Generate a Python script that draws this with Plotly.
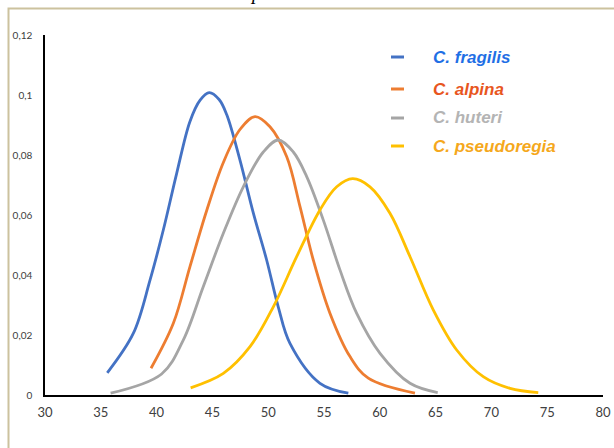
import plotly.graph_objects as go

# ---- data ----
frag_x = [35.58, 37.92, 39.41, 40.6, 41.8, 42.99, 43.9, 44.72, 45.6, 46.28, 47.47, 48.67, 49.86, 50.9, 51.95, 54.64, 57.18]
frag_y = [0.0074, 0.0206, 0.0383, 0.055, 0.0739, 0.0912, 0.0983, 0.1008, 0.0985, 0.0935, 0.0783, 0.0606, 0.045, 0.0294, 0.0172, 0.0039, 0.0006]

alp_x = [39.5, 41.5, 42.99, 44.49, 45.98, 47.47, 48.82, 50.16, 51.66, 52.85, 54.04, 55.54, 57.33, 58.97, 63.15]
alp_y = [0.0089, 0.0239, 0.0428, 0.0615, 0.0775, 0.0885, 0.0928, 0.0894, 0.0794, 0.0628, 0.045, 0.0272, 0.0128, 0.0056, 0.0006]

hut_x = [35.88, 40.45, 42.39, 44.18, 45.98, 47.77, 49.56, 50.9, 52.25, 53.45, 54.94, 56.43, 57.93, 60.02, 62.71, 65.19]
hut_y = [0.0006, 0.007, 0.0183, 0.0361, 0.0539, 0.0694, 0.081, 0.085, 0.081, 0.0728, 0.0583, 0.0417, 0.0272, 0.0139, 0.0039, 0.0008]

pse_x = [43.05, 45.98, 48.37, 50.46, 52.55, 54.64, 56.14, 57.57, 59.12, 60.91, 62.71, 64.8, 66.89, 69.27, 71.67, 74.2]
pse_y = [0.0024, 0.0072, 0.0161, 0.0294, 0.0461, 0.0617, 0.0694, 0.0721, 0.0694, 0.0606, 0.0461, 0.0283, 0.015, 0.0061, 0.0022, 0.0008]

series_names = ["C. fragilis", "C. alpina", "C. huteri", "C. pseudoregia"]
line_colors = ["#4472C4", "#ED7D31", "#A5A5A5", "#FFC000"]
text_colors = ["#1F6FE5", "#E8561E", "#B4B4B4", "#F5A81C"]

x_tickvals = [30, 35, 40, 45, 50, 55, 60, 65, 70, 75, 80]
x_ticktext = ["30", "35", "40", "45", "50", "55", "60", "65", "70", "75", "80"]
y_tickvals = [0, 0.02, 0.04, 0.06, 0.08, 0.1, 0.12]
y_ticktext = ["0", "0,02", "0,04", "0,06", "0,08", "0,1", "0,12"]

xs = [frag_x, alp_x, hut_x, pse_x]
ys = [frag_y, alp_y, hut_y, pse_y]

W, H = 614, 448
L, R, T, B = 45, 11, 35, 53
pw, ph = W - L - R, H - T - B

def px_to_paper_x(px):
    return (px - L) / pw

def py_to_paper_y(py):
    return (H - B - py) / ph

fig = go.Figure()
for x, y, name, c in zip(xs, ys, series_names, line_colors):
    fig.add_trace(go.Scatter(x=x, y=y, mode="lines", name=name,
                             line=dict(color=c, width=2.8, shape="spline", smoothing=1.0),
                             showlegend=False, hoverinfo="skip", cliponaxis=False))

shapes = []
annotations = []
legend_y_px = [57, 89, 118, 146]
for ypx, name, lc, tc in zip(legend_y_px, series_names, line_colors, text_colors):
    shapes.append(dict(type="line", xref="paper", yref="paper",
                       x0=px_to_paper_x(391), x1=px_to_paper_x(404),
                       y0=py_to_paper_y(ypx), y1=py_to_paper_y(ypx),
                       line=dict(color=lc, width=3)))
    annotations.append(dict(xref="paper", yref="paper", x=px_to_paper_x(431), y=py_to_paper_y(ypx),
                            xanchor="left", yanchor="middle", showarrow=False,
                            text="<b><i>%s</i></b>" % name,
                            font=dict(family="Liberation Sans, Arial", size=17, color=tc)))

# outer frame (partially visible)
shapes.append(dict(type="rect", xref="paper", yref="paper",
                   x0=px_to_paper_x(8.5), x1=px_to_paper_x(640),
                   y0=py_to_paper_y(480), y1=py_to_paper_y(8.5),
                   line=dict(color="#CCC29E", width=2), fillcolor="rgba(0,0,0,0)", layer="below"))

# clipped title fragment at the very top (cut off in the reference too)
annotations.append(dict(xref="paper", yref="paper", x=px_to_paper_x(256), y=py_to_paper_y(6),
                        xanchor="center", yanchor="bottom", showarrow=False,
                        text="<i>p</i>", font=dict(family="Liberation Serif", size=20, color="#000000")))

fig.update_layout(
    width=W, height=H,
    margin=dict(l=L, r=R, t=T, b=B, pad=0),
    paper_bgcolor="white", plot_bgcolor="white",
    shapes=shapes, annotations=annotations,
    xaxis=dict(range=[30, 80], tickvals=x_tickvals, ticktext=x_ticktext, automargin=False,
               showgrid=False, zeroline=False, showline=True, linecolor="#000000", linewidth=2,
               ticks="", tickfont=dict(family="Lato, Carlito, sans-serif", size=13, color="#404040"),
               ticklabelstandoff=4),
    yaxis=dict(range=[0, 0.12], tickvals=y_tickvals, ticktext=y_ticktext, automargin=False,
               showgrid=False, zeroline=False, showline=True, linecolor="#000000", linewidth=1.5,
               ticks="", tickfont=dict(family="Lato, Carlito, sans-serif", size=10, color="#404040"),
               ticklabelstandoff=9),
)

fig.write_html("out.html")
